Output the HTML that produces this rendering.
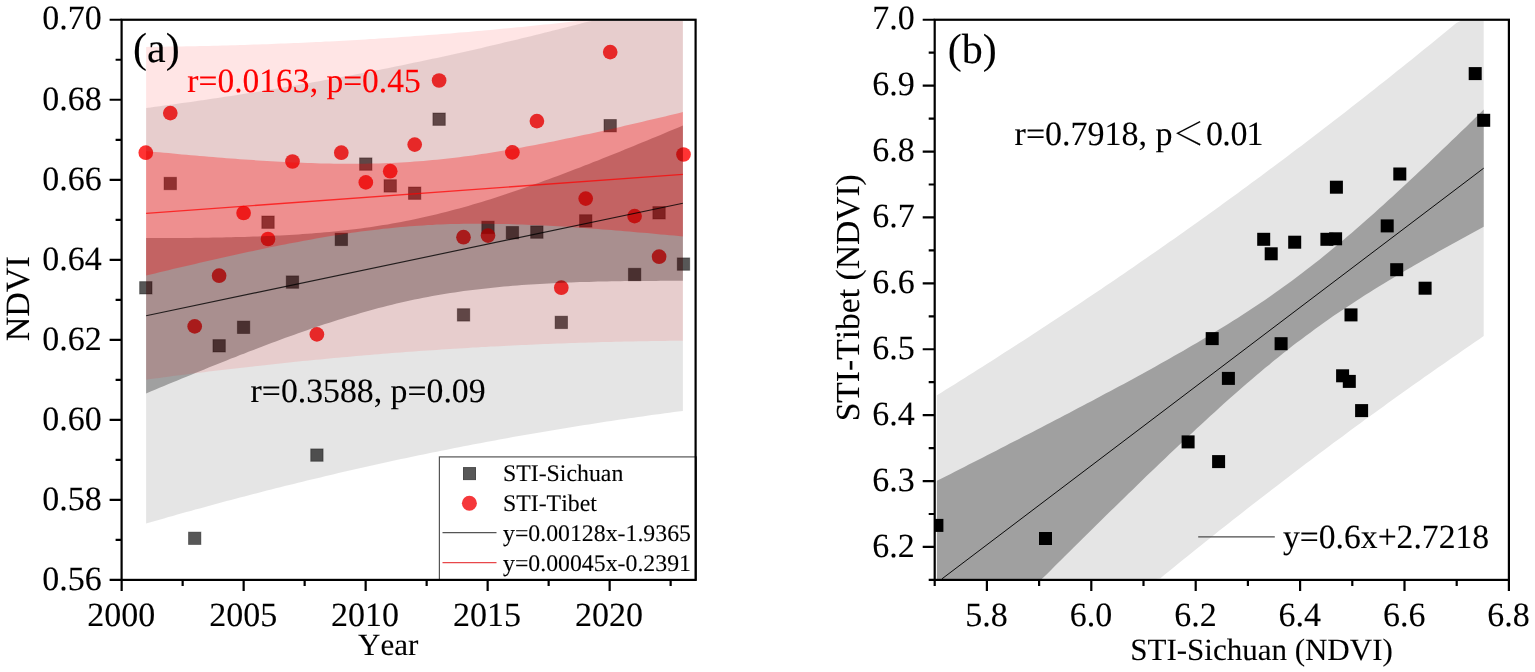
<!DOCTYPE html>
<html lang="en">
<head>
<meta charset="utf-8">
<title>NDVI trends: STI-Sichuan and STI-Tibet</title>
<style>
html,body{margin:0;padding:0;background:#fff;}
body{width:1535px;height:672px;overflow:hidden;}
svg{display:block;}
text{font-family:"Liberation Serif","Noto Serif CJK SC",serif;fill:#000;text-rendering:geometricPrecision;font-kerning:none;stroke:#000;stroke-width:0.1px;}
.t{font-size:34px;}
.l{font-size:23.8px;}
.p{font-size:42px;}
.ax{stroke:#000;stroke-width:2.2;fill:none;stroke-linecap:butt;}
</style>
</head>
<body>
<svg width="1535" height="672" viewBox="0 0 1535 672">
<rect x="0" y="0" width="1535" height="672" fill="#fff"/>

<g id="plot-a">
<g fill="#000" fill-opacity="0.66" stroke="#000" stroke-opacity="0.35" stroke-width="1">
<rect x="139.62" y="281.60" width="12.4" height="12.4"/>
<rect x="164.06" y="177.30" width="12.4" height="12.4"/>
<rect x="188.50" y="532.10" width="12.4" height="12.4"/>
<rect x="212.94" y="339.60" width="12.4" height="12.4"/>
<rect x="237.38" y="321.10" width="12.4" height="12.4"/>
<rect x="261.82" y="216.00" width="12.4" height="12.4"/>
<rect x="286.26" y="275.90" width="12.4" height="12.4"/>
<rect x="310.70" y="448.90" width="12.4" height="12.4"/>
<rect x="335.14" y="233.20" width="12.4" height="12.4"/>
<rect x="359.58" y="157.90" width="12.4" height="12.4"/>
<rect x="384.02" y="179.70" width="12.4" height="12.4"/>
<rect x="408.46" y="187.00" width="12.4" height="12.4"/>
<rect x="432.90" y="113.00" width="12.4" height="12.4"/>
<rect x="457.34" y="308.70" width="12.4" height="12.4"/>
<rect x="481.78" y="221.20" width="12.4" height="12.4"/>
<rect x="506.22" y="226.50" width="12.4" height="12.4"/>
<rect x="530.66" y="225.90" width="12.4" height="12.4"/>
<rect x="555.10" y="316.20" width="12.4" height="12.4"/>
<rect x="579.54" y="214.70" width="12.4" height="12.4"/>
<rect x="603.98" y="119.50" width="12.4" height="12.4"/>
<rect x="628.42" y="268.30" width="12.4" height="12.4"/>
<rect x="652.86" y="206.60" width="12.4" height="12.4"/>
<rect x="677.30" y="257.90" width="12.4" height="12.4"/>
</g>
<g fill="#ff0000" fill-opacity="0.8">
<circle cx="145.8" cy="152.7" r="7.35"/>
<circle cx="170.3" cy="113.1" r="7.35"/>
<circle cx="194.7" cy="326.4" r="7.35"/>
<circle cx="219.1" cy="275.7" r="7.35"/>
<circle cx="243.6" cy="213.0" r="7.35"/>
<circle cx="268.0" cy="239.0" r="7.35"/>
<circle cx="292.5" cy="161.5" r="7.35"/>
<circle cx="316.9" cy="334.4" r="7.35"/>
<circle cx="341.3" cy="152.7" r="7.35"/>
<circle cx="365.8" cy="182.4" r="7.35"/>
<circle cx="390.2" cy="171.2" r="7.35"/>
<circle cx="414.7" cy="144.6" r="7.35"/>
<circle cx="439.1" cy="80.5" r="7.35"/>
<circle cx="463.5" cy="237.2" r="7.35"/>
<circle cx="488.0" cy="235.6" r="7.35"/>
<circle cx="512.4" cy="152.4" r="7.35"/>
<circle cx="536.9" cy="121.1" r="7.35"/>
<circle cx="561.3" cy="287.7" r="7.35"/>
<circle cx="585.7" cy="198.6" r="7.35"/>
<circle cx="610.2" cy="52.1" r="7.35"/>
<circle cx="634.6" cy="216.1" r="7.35"/>
<circle cx="659.1" cy="256.7" r="7.35"/>
<circle cx="683.5" cy="154.5" r="7.35"/>
</g>
<path d="M146.1,108.0L150.6,107.4L155.0,106.8L159.5,106.2L164.0,105.6L168.5,105.0L172.9,104.4L177.4,103.8L181.9,103.1L186.4,102.5L190.8,101.9L195.3,101.2L199.8,100.6L204.3,99.9L208.7,99.3L213.2,98.6L217.7,98.0L222.1,97.3L226.6,96.6L231.1,95.9L235.6,95.2L240.0,94.5L244.5,93.8L249.0,93.1L253.5,92.4L257.9,91.7L262.4,90.9L266.9,90.2L271.4,89.5L275.8,88.7L280.3,88.0L284.8,87.2L289.2,86.5L293.7,85.7L298.2,84.9L302.7,84.1L307.1,83.4L311.6,82.6L316.1,81.8L320.6,81.0L325.0,80.1L329.5,79.3L334.0,78.5L338.5,77.7L342.9,76.8L347.4,76.0L351.9,75.2L356.3,74.3L360.8,73.4L365.3,72.6L369.8,71.7L374.2,70.8L378.7,69.9L383.2,69.0L387.7,68.2L392.1,67.2L396.6,66.3L401.1,65.4L405.6,64.5L410.0,63.6L414.5,62.6L419.0,61.7L423.4,60.7L427.9,59.8L432.4,58.8L436.9,57.9L441.3,56.9L445.8,55.9L450.3,54.9L454.8,53.9L459.2,52.9L463.7,51.9L468.2,50.9L472.7,49.9L477.1,48.9L481.6,47.9L486.1,46.8L490.5,45.8L495.0,44.7L499.5,43.7L504.0,42.6L508.4,41.6L512.9,40.5L517.4,39.4L521.9,38.3L526.3,37.2L530.8,36.2L535.3,35.0L539.8,33.9L544.2,32.8L548.7,31.7L553.2,30.6L557.6,29.5L562.1,28.3L566.6,27.2L571.1,26.0L575.5,24.9L580.0,23.7L584.5,22.5L589.0,21.4L593.4,20.8L597.9,20.8L602.4,20.8L606.9,20.8L611.3,20.8L615.8,20.8L620.3,20.8L624.7,20.8L629.2,20.8L633.7,20.8L638.2,20.8L642.6,20.8L647.1,20.8L651.6,20.8L656.1,20.8L660.5,20.8L665.0,20.8L669.5,20.8L674.0,20.8L678.4,20.8L682.9,20.8L682.9,410.9L678.4,411.5L674.0,412.1L669.5,412.7L665.0,413.3L660.5,413.9L656.1,414.5L651.6,415.1L647.1,415.8L642.6,416.4L638.2,417.0L633.7,417.7L629.2,418.3L624.7,419.0L620.3,419.6L615.8,420.3L611.3,420.9L606.9,421.6L602.4,422.3L597.9,423.0L593.4,423.7L589.0,424.4L584.5,425.1L580.0,425.8L575.5,426.5L571.1,427.2L566.6,428.0L562.1,428.7L557.6,429.4L553.2,430.2L548.7,430.9L544.2,431.7L539.8,432.4L535.3,433.2L530.8,434.0L526.3,434.8L521.9,435.6L517.4,436.3L512.9,437.1L508.4,437.9L504.0,438.8L499.5,439.6L495.0,440.4L490.5,441.2L486.1,442.1L481.6,442.9L477.1,443.8L472.7,444.6L468.2,445.5L463.7,446.3L459.2,447.2L454.8,448.1L450.3,449.0L445.8,449.9L441.3,450.8L436.9,451.7L432.4,452.6L427.9,453.5L423.4,454.4L419.0,455.3L414.5,456.3L410.0,457.2L405.6,458.2L401.1,459.1L396.6,460.1L392.1,461.1L387.7,462.0L383.2,463.0L378.7,464.0L374.2,465.0L369.8,466.0L365.3,467.0L360.8,468.0L356.3,469.0L351.9,470.0L347.4,471.1L342.9,472.1L338.5,473.1L334.0,474.2L329.5,475.2L325.0,476.3L320.6,477.4L316.1,478.4L311.6,479.5L307.1,480.6L302.7,481.7L298.2,482.8L293.7,483.9L289.2,485.0L284.8,486.1L280.3,487.2L275.8,488.3L271.4,489.5L266.9,490.6L262.4,491.8L257.9,492.9L253.5,494.1L249.0,495.2L244.5,496.4L240.0,497.6L235.6,498.8L231.1,499.9L226.6,501.1L222.1,502.3L217.7,503.5L213.2,504.7L208.7,505.9L204.3,507.2L199.8,508.4L195.3,509.6L190.8,510.9L186.4,512.1L181.9,513.3L177.4,514.6L172.9,515.9L168.5,517.1L164.0,518.4L159.5,519.7L155.0,520.9L150.6,522.2L146.1,523.5Z" fill="#000" fill-opacity="0.10"/>
<path d="M146.1,238.0L150.6,238.0L155.0,238.0L159.5,238.0L164.0,238.0L168.5,238.0L172.9,238.0L177.4,238.0L181.9,237.9L186.4,237.9L190.8,237.9L195.3,237.8L199.8,237.8L204.3,237.7L208.7,237.7L213.2,237.6L217.7,237.5L222.1,237.4L226.6,237.3L231.1,237.2L235.6,237.1L240.0,237.0L244.5,236.9L249.0,236.7L253.5,236.6L257.9,236.4L262.4,236.2L266.9,236.1L271.4,235.9L275.8,235.6L280.3,235.4L284.8,235.2L289.2,234.9L293.7,234.7L298.2,234.4L302.7,234.1L307.1,233.8L311.6,233.4L316.1,233.1L320.6,232.7L325.0,232.3L329.5,231.9L334.0,231.5L338.5,231.0L342.9,230.5L347.4,230.0L351.9,229.5L356.3,229.0L360.8,228.4L365.3,227.8L369.8,227.2L374.2,226.5L378.7,225.8L383.2,225.1L387.7,224.4L392.1,223.6L396.6,222.8L401.1,222.0L405.6,221.1L410.0,220.2L414.5,219.3L419.0,218.3L423.4,217.3L427.9,216.3L432.4,215.3L436.9,214.2L441.3,213.1L445.8,212.0L450.3,210.8L454.8,209.6L459.2,208.4L463.7,207.2L468.2,205.9L472.7,204.6L477.1,203.3L481.6,201.9L486.1,200.5L490.5,199.2L495.0,197.7L499.5,196.3L504.0,194.8L508.4,193.3L512.9,191.8L517.4,190.3L521.9,188.8L526.3,187.2L530.8,185.6L535.3,184.1L539.8,182.4L544.2,180.8L548.7,179.2L553.2,177.5L557.6,175.9L562.1,174.2L566.6,172.5L571.1,170.8L575.5,169.1L580.0,167.4L584.5,165.6L589.0,163.9L593.4,162.1L597.9,160.4L602.4,158.6L606.9,156.8L611.3,155.0L615.8,153.2L620.3,151.4L624.7,149.6L629.2,147.8L633.7,146.0L638.2,144.1L642.6,142.3L647.1,140.4L651.6,138.6L656.1,136.7L660.5,134.9L665.0,133.0L669.5,131.1L674.0,129.3L678.4,127.4L682.9,125.5L682.9,280.8L678.4,280.8L674.0,280.8L669.5,280.8L665.0,280.8L660.5,280.8L656.1,280.9L651.6,280.9L647.1,280.9L642.6,280.9L638.2,281.0L633.7,281.0L629.2,281.1L624.7,281.1L620.3,281.2L615.8,281.3L611.3,281.3L606.9,281.4L602.4,281.5L597.9,281.6L593.4,281.7L589.0,281.9L584.5,282.0L580.0,282.1L575.5,282.3L571.1,282.5L566.6,282.6L562.1,282.8L557.6,283.0L553.2,283.2L548.7,283.4L544.2,283.7L539.8,283.9L535.3,284.2L530.8,284.5L526.3,284.8L521.9,285.1L517.4,285.4L512.9,285.8L508.4,286.2L504.0,286.6L499.5,287.0L495.0,287.4L490.5,287.9L486.1,288.4L481.6,288.9L477.1,289.4L472.7,289.9L468.2,290.5L463.7,291.1L459.2,291.7L454.8,292.4L450.3,293.1L445.8,293.8L441.3,294.5L436.9,295.3L432.4,296.1L427.9,297.0L423.4,297.8L419.0,298.7L414.5,299.6L410.0,300.6L405.6,301.6L401.1,302.6L396.6,303.6L392.1,304.7L387.7,305.8L383.2,307.0L378.7,308.1L374.2,309.3L369.8,310.5L365.3,311.8L360.8,313.1L356.3,314.4L351.9,315.7L347.4,317.0L342.9,318.4L338.5,319.8L334.0,321.2L329.5,322.7L325.0,324.1L320.6,325.6L316.1,327.1L311.6,328.6L307.1,330.2L302.7,331.7L298.2,333.3L293.7,334.9L289.2,336.5L284.8,338.1L280.3,339.8L275.8,341.4L271.4,343.1L266.9,344.8L262.4,346.5L257.9,348.2L253.5,349.9L249.0,351.6L244.5,353.4L240.0,355.1L235.6,356.9L231.1,358.6L226.6,360.4L222.1,362.2L217.7,364.0L213.2,365.8L208.7,367.6L204.3,369.4L199.8,371.2L195.3,373.0L190.8,374.9L186.4,376.7L181.9,378.5L177.4,380.4L172.9,382.2L168.5,384.1L164.0,386.0L159.5,387.8L155.0,389.7L150.6,391.6L146.1,393.5Z" fill="#000" fill-opacity="0.30"/>
<path d="M146.1,46.9L150.6,46.8L155.0,46.8L159.5,46.7L164.0,46.7L168.5,46.6L172.9,46.5L177.4,46.5L181.9,46.4L186.4,46.3L190.8,46.2L195.3,46.2L199.8,46.1L204.3,46.0L208.7,45.9L213.2,45.8L217.7,45.7L222.1,45.5L226.6,45.4L231.1,45.3L235.6,45.2L240.0,45.0L244.5,44.9L249.0,44.8L253.5,44.6L257.9,44.5L262.4,44.3L266.9,44.2L271.4,44.0L275.8,43.8L280.3,43.6L284.8,43.5L289.2,43.3L293.7,43.1L298.2,42.9L302.7,42.7L307.1,42.5L311.6,42.3L316.1,42.1L320.6,41.9L325.0,41.6L329.5,41.4L334.0,41.2L338.5,40.9L342.9,40.7L347.4,40.4L351.9,40.2L356.3,39.9L360.8,39.7L365.3,39.4L369.8,39.1L374.2,38.9L378.7,38.6L383.2,38.3L387.7,38.0L392.1,37.7L396.6,37.4L401.1,37.1L405.6,36.8L410.0,36.5L414.5,36.1L419.0,35.8L423.4,35.5L427.9,35.1L432.4,34.8L436.9,34.4L441.3,34.1L445.8,33.7L450.3,33.4L454.8,33.0L459.2,32.6L463.7,32.3L468.2,31.9L472.7,31.5L477.1,31.1L481.6,30.7L486.1,30.3L490.5,29.9L495.0,29.5L499.5,29.1L504.0,28.6L508.4,28.2L512.9,27.8L517.4,27.3L521.9,26.9L526.3,26.5L530.8,26.0L535.3,25.6L539.8,25.1L544.2,24.6L548.7,24.2L553.2,23.7L557.6,23.2L562.1,22.7L566.6,22.2L571.1,21.7L575.5,21.2L580.0,20.8L584.5,20.8L589.0,20.8L593.4,20.8L597.9,20.8L602.4,20.8L606.9,20.8L611.3,20.8L615.8,20.8L620.3,20.8L624.7,20.8L629.2,20.8L633.7,20.8L638.2,20.8L642.6,20.8L647.1,20.8L651.6,20.8L656.1,20.8L660.5,20.8L665.0,20.8L669.5,20.8L674.0,20.8L678.4,20.8L682.9,20.8L682.9,340.7L678.4,340.7L674.0,340.8L669.5,340.8L665.0,340.9L660.5,341.0L656.1,341.0L651.6,341.1L647.1,341.2L642.6,341.2L638.2,341.3L633.7,341.4L629.2,341.5L624.7,341.6L620.3,341.7L615.8,341.8L611.3,341.9L606.9,342.0L602.4,342.1L597.9,342.3L593.4,342.4L589.0,342.5L584.5,342.7L580.0,342.8L575.5,342.9L571.1,343.1L566.6,343.3L562.1,343.4L557.6,343.6L553.2,343.7L548.7,343.9L544.2,344.1L539.8,344.3L535.3,344.5L530.8,344.7L526.3,344.9L521.9,345.1L517.4,345.3L512.9,345.5L508.4,345.7L504.0,345.9L499.5,346.2L495.0,346.4L490.5,346.6L486.1,346.9L481.6,347.1L477.1,347.4L472.7,347.6L468.2,347.9L463.7,348.2L459.2,348.4L454.8,348.7L450.3,349.0L445.8,349.3L441.3,349.6L436.9,349.9L432.4,350.2L427.9,350.5L423.4,350.8L419.0,351.1L414.5,351.4L410.0,351.8L405.6,352.1L401.1,352.4L396.6,352.8L392.1,353.1L387.7,353.5L383.2,353.8L378.7,354.2L374.2,354.6L369.8,354.9L365.3,355.3L360.8,355.7L356.3,356.1L351.9,356.5L347.4,356.9L342.9,357.3L338.5,357.7L334.0,358.1L329.5,358.5L325.0,358.9L320.6,359.4L316.1,359.8L311.6,360.2L307.1,360.7L302.7,361.1L298.2,361.6L293.7,362.0L289.2,362.5L284.8,363.0L280.3,363.4L275.8,363.9L271.4,364.4L266.9,364.9L262.4,365.4L257.9,365.9L253.5,366.4L249.0,366.9L244.5,367.4L240.0,367.9L235.6,368.4L231.1,368.9L226.6,369.5L222.1,370.0L217.7,370.5L213.2,371.1L208.7,371.6L204.3,372.2L199.8,372.7L195.3,373.3L190.8,373.8L186.4,374.4L181.9,375.0L177.4,375.5L172.9,376.1L168.5,376.7L164.0,377.3L159.5,377.9L155.0,378.5L150.6,379.1L146.1,379.7Z" fill="#f00" fill-opacity="0.10"/>
<path d="M146.1,151.0L150.6,151.5L155.0,151.9L159.5,152.3L164.0,152.7L168.5,153.1L172.9,153.6L177.4,154.0L181.9,154.4L186.4,154.8L190.8,155.2L195.3,155.6L199.8,156.0L204.3,156.3L208.7,156.7L213.2,157.1L217.7,157.4L222.1,157.8L226.6,158.2L231.1,158.5L235.6,158.8L240.0,159.2L244.5,159.5L249.0,159.8L253.5,160.1L257.9,160.4L262.4,160.7L266.9,161.0L271.4,161.2L275.8,161.5L280.3,161.7L284.8,162.0L289.2,162.2L293.7,162.4L298.2,162.6L302.7,162.8L307.1,163.0L311.6,163.1L316.1,163.3L320.6,163.4L325.0,163.5L329.5,163.6L334.0,163.7L338.5,163.8L342.9,163.8L347.4,163.8L351.9,163.8L356.3,163.8L360.8,163.8L365.3,163.7L369.8,163.6L374.2,163.5L378.7,163.4L383.2,163.3L387.7,163.1L392.1,162.9L396.6,162.7L401.1,162.5L405.6,162.2L410.0,161.9L414.5,161.6L419.0,161.3L423.4,160.9L427.9,160.5L432.4,160.1L436.9,159.7L441.3,159.2L445.8,158.7L450.3,158.2L454.8,157.7L459.2,157.2L463.7,156.6L468.2,156.0L472.7,155.4L477.1,154.8L481.6,154.1L486.1,153.4L490.5,152.7L495.0,152.0L499.5,151.3L504.0,150.5L508.4,149.8L512.9,149.0L517.4,148.2L521.9,147.4L526.3,146.6L530.8,145.8L535.3,144.9L539.8,144.0L544.2,143.2L548.7,142.3L553.2,141.4L557.6,140.5L562.1,139.6L566.6,138.6L571.1,137.7L575.5,136.8L580.0,135.8L584.5,134.8L589.0,133.9L593.4,132.9L597.9,131.9L602.4,130.9L606.9,129.9L611.3,128.9L615.8,127.9L620.3,126.9L624.7,125.8L629.2,124.8L633.7,123.8L638.2,122.7L642.6,121.7L647.1,120.6L651.6,119.6L656.1,118.5L660.5,117.5L665.0,116.4L669.5,115.3L674.0,114.2L678.4,113.2L682.9,112.1L682.9,236.5L678.4,236.1L674.0,235.6L669.5,235.2L665.0,234.8L660.5,234.4L656.1,234.0L651.6,233.6L647.1,233.1L642.6,232.7L638.2,232.4L633.7,232.0L629.2,231.6L624.7,231.2L620.3,230.8L615.8,230.4L611.3,230.1L606.9,229.7L602.4,229.4L597.9,229.0L593.4,228.7L589.0,228.4L584.5,228.0L580.0,227.7L575.5,227.4L571.1,227.1L566.6,226.8L562.1,226.6L557.6,226.3L553.2,226.0L548.7,225.8L544.2,225.6L539.8,225.3L535.3,225.1L530.8,224.9L526.3,224.7L521.9,224.6L517.4,224.4L512.9,224.3L508.4,224.1L504.0,224.0L499.5,223.9L495.0,223.9L490.5,223.8L486.1,223.8L481.6,223.7L477.1,223.7L472.7,223.7L468.2,223.8L463.7,223.8L459.2,223.9L454.8,224.0L450.3,224.1L445.8,224.3L441.3,224.5L436.9,224.6L432.4,224.9L427.9,225.1L423.4,225.4L419.0,225.7L414.5,226.0L410.0,226.3L405.6,226.7L401.1,227.1L396.6,227.5L392.1,227.9L387.7,228.4L383.2,228.8L378.7,229.4L374.2,229.9L369.8,230.4L365.3,231.0L360.8,231.6L356.3,232.2L351.9,232.8L347.4,233.5L342.9,234.2L338.5,234.9L334.0,235.6L329.5,236.3L325.0,237.1L320.6,237.8L316.1,238.6L311.6,239.4L307.1,240.2L302.7,241.0L298.2,241.9L293.7,242.7L289.2,243.6L284.8,244.4L280.3,245.3L275.8,246.2L271.4,247.1L266.9,248.1L262.4,249.0L257.9,249.9L253.5,250.9L249.0,251.8L244.5,252.8L240.0,253.8L235.6,254.7L231.1,255.7L226.6,256.7L222.1,257.7L217.7,258.7L213.2,259.7L208.7,260.8L204.3,261.8L199.8,262.8L195.3,263.9L190.8,264.9L186.4,265.9L181.9,267.0L177.4,268.1L172.9,269.1L168.5,270.2L164.0,271.2L159.5,272.3L155.0,273.4L150.6,274.5L146.1,275.6Z" fill="#f00" fill-opacity="0.30"/>
<line x1="146.1" y1="315.7" x2="682.9" y2="203.2" stroke="#000" stroke-opacity="0.8" stroke-width="1.15"/>
<line x1="146.1" y1="213.3" x2="682.9" y2="174.3" stroke="#ff0000" stroke-opacity="0.72" stroke-width="1.35"/>
<rect x="439.4" y="456.9" width="257" height="123" fill="#fff" stroke="#555" stroke-width="1.2"/>
<rect x="463.5" y="467.6" width="12" height="12" fill="#585858" stroke="#4a4a4a" stroke-width="1"/>
<circle cx="469.4" cy="503.3" r="7.5" fill="#f5383b"/>
<line x1="442.5" y1="532.7" x2="496.5" y2="532.7" stroke="#555" stroke-width="1.2"/>
<line x1="442.5" y1="562.7" x2="496.5" y2="562.7" stroke="#e8474a" stroke-width="1.2"/>
<text class="l" transform="translate(503.0 481.0)">STI-Sichuan</text>
<text class="l" transform="translate(503.0 511.0)">STI-Tibet</text>
<text class="l" transform="translate(503.0 540.6)">y=0.00128x-1.9365</text>
<text class="l" transform="translate(503.0 570.8)">y=0.00045x-0.2391</text>
<rect class="ax" x="121.6" y="19.75" width="574.0" height="560.15"/>
<text class="t" transform="translate(101.8 589.6)" text-anchor="end">0.56</text>
<text class="t" transform="translate(101.8 509.6)" text-anchor="end">0.58</text>
<text class="t" transform="translate(101.8 429.6)" text-anchor="end">0.60</text>
<text class="t" transform="translate(101.8 349.5)" text-anchor="end">0.62</text>
<text class="t" transform="translate(101.8 269.5)" text-anchor="end">0.64</text>
<text class="t" transform="translate(101.8 189.5)" text-anchor="end">0.66</text>
<text class="t" transform="translate(101.8 109.5)" text-anchor="end">0.68</text>
<text class="t" transform="translate(101.8 29.4)" text-anchor="end">0.70</text>
<text class="t" transform="translate(121.2 625.6)" text-anchor="middle">2000</text>
<text class="t" transform="translate(243.2 625.6)" text-anchor="middle">2005</text>
<text class="t" transform="translate(365.1 625.6)" text-anchor="middle">2010</text>
<text class="t" transform="translate(487.1 625.6)" text-anchor="middle">2015</text>
<text class="t" transform="translate(609.1 625.6)" text-anchor="middle">2020</text>
<path class="ax" d="M109.6,579.90H121.6 M109.6,499.88H121.6 M109.6,419.86H121.6 M109.6,339.84H121.6 M109.6,259.81H121.6 M109.6,179.79H121.6 M109.6,99.77H121.6 M109.6,19.75H121.6 M115.6,539.89H121.6 M115.6,459.87H121.6 M115.6,379.85H121.6 M115.6,299.83H121.6 M115.6,219.80H121.6 M115.6,139.78H121.6 M115.6,59.76H121.6 M121.65,579.9V590.9 M243.65,579.9V590.9 M365.65,579.9V590.9 M487.65,579.9V590.9 M609.65,579.9V590.9 M182.65,579.9V585.9 M304.65,579.9V585.9 M426.65,579.9V585.9 M548.65,579.9V585.9 M670.65,579.9V585.9"/>
<text class="t" transform="translate(388.2 655.1)" text-anchor="middle" style="font-size:31px">Year</text>
<text class="t" transform="translate(29.0 298.7) rotate(-90)" text-anchor="middle">NDVI</text>
<text class="p" transform="translate(133.0 62.0)">(a)</text>
<text class="t" transform="translate(187.3 91.5)" style="fill:#f00;stroke:#f00" textLength="233.5" lengthAdjust="spacingAndGlyphs">r=0.0163, p=0.45</text>
<text class="t" transform="translate(250.6 402.2)" textLength="235" lengthAdjust="spacingAndGlyphs">r=0.3588, p=0.09</text>
</g>
<g id="plot-b">
<path d="M936.9,395.3L941.5,392.4L946.0,389.6L950.6,386.7L955.2,383.9L959.7,381.0L964.3,378.2L968.8,375.3L973.4,372.4L977.9,369.5L982.5,366.7L987.1,363.8L991.6,360.9L996.2,357.9L1000.7,355.0L1005.3,352.1L1009.8,349.2L1014.4,346.2L1019.0,343.3L1023.5,340.4L1028.1,337.4L1032.6,334.4L1037.2,331.5L1041.7,328.5L1046.3,325.5L1050.8,322.5L1055.4,319.5L1060.0,316.5L1064.5,313.5L1069.1,310.5L1073.6,307.5L1078.2,304.4L1082.7,301.4L1087.3,298.3L1091.9,295.3L1096.4,292.2L1101.0,289.2L1105.5,286.1L1110.1,283.0L1114.6,279.9L1119.2,276.8L1123.8,273.7L1128.3,270.6L1132.9,267.4L1137.4,264.3L1142.0,261.1L1146.5,258.0L1151.1,254.8L1155.6,251.7L1160.2,248.5L1164.8,245.3L1169.3,242.1L1173.9,238.9L1178.4,235.7L1183.0,232.5L1187.5,229.3L1192.1,226.0L1196.7,222.8L1201.2,219.5L1205.8,216.3L1210.3,213.0L1214.9,209.7L1219.4,206.4L1224.0,203.1L1228.5,199.8L1233.1,196.5L1237.7,193.2L1242.2,189.8L1246.8,186.5L1251.3,183.1L1255.9,179.8L1260.4,176.4L1265.0,173.0L1269.6,169.6L1274.1,166.2L1278.7,162.8L1283.2,159.4L1287.8,156.0L1292.3,152.6L1296.9,149.1L1301.5,145.7L1306.0,142.2L1310.6,138.8L1315.1,135.3L1319.7,131.8L1324.2,128.3L1328.8,124.8L1333.3,121.3L1337.9,117.7L1342.5,114.2L1347.0,110.7L1351.6,107.1L1356.1,103.6L1360.7,100.0L1365.2,96.4L1369.8,92.8L1374.4,89.2L1378.9,85.6L1383.5,82.0L1388.0,78.4L1392.6,74.8L1397.1,71.1L1401.7,67.5L1406.3,63.8L1410.8,60.2L1415.4,56.5L1419.9,52.8L1424.5,49.1L1429.0,45.4L1433.6,41.7L1438.1,38.0L1442.7,34.3L1447.3,30.5L1451.8,26.8L1456.4,23.0L1460.9,20.8L1465.5,20.8L1470.0,20.8L1474.6,20.8L1479.2,20.8L1483.7,20.8L1483.7,336.1L1479.2,339.2L1474.6,342.3L1470.0,345.4L1465.5,348.6L1460.9,351.7L1456.4,354.9L1451.8,358.0L1447.3,361.2L1442.7,364.4L1438.1,367.5L1433.6,370.7L1429.0,373.9L1424.5,377.1L1419.9,380.4L1415.4,383.6L1410.8,386.8L1406.3,390.1L1401.7,393.3L1397.1,396.6L1392.6,399.8L1388.0,403.1L1383.5,406.4L1378.9,409.7L1374.4,413.0L1369.8,416.3L1365.2,419.6L1360.7,422.9L1356.1,426.3L1351.6,429.6L1347.0,433.0L1342.5,436.4L1337.9,439.7L1333.3,443.1L1328.8,446.5L1324.2,449.9L1319.7,453.3L1315.1,456.7L1310.6,460.2L1306.0,463.6L1301.5,467.1L1296.9,470.5L1292.3,474.0L1287.8,477.4L1283.2,480.9L1278.7,484.4L1274.1,487.9L1269.6,491.4L1265.0,495.0L1260.4,498.5L1255.9,502.0L1251.3,505.6L1246.8,509.1L1242.2,512.7L1237.7,516.3L1233.1,519.8L1228.5,523.4L1224.0,527.0L1219.4,530.6L1214.9,534.3L1210.3,537.9L1205.8,541.5L1201.2,545.2L1196.7,548.8L1192.1,552.5L1187.5,556.2L1183.0,559.8L1178.4,563.5L1173.9,567.2L1169.3,570.9L1164.8,574.6L1160.2,578.4L1155.6,578.9L1151.1,578.9L1146.5,578.9L1142.0,578.9L1137.4,578.9L1132.9,578.9L1128.3,578.9L1123.8,578.9L1119.2,578.9L1114.6,578.9L1110.1,578.9L1105.5,578.9L1101.0,578.9L1096.4,578.9L1091.9,578.9L1087.3,578.9L1082.7,578.9L1078.2,578.9L1073.6,578.9L1069.1,578.9L1064.5,578.9L1060.0,578.9L1055.4,578.9L1050.8,578.9L1046.3,578.9L1041.7,578.9L1037.2,578.9L1032.6,578.9L1028.1,578.9L1023.5,578.9L1019.0,578.9L1014.4,578.9L1009.8,578.9L1005.3,578.9L1000.7,578.9L996.2,578.9L991.6,578.9L987.1,578.9L982.5,578.9L977.9,578.9L973.4,578.9L968.8,578.9L964.3,578.9L959.7,578.9L955.2,578.9L950.6,578.9L946.0,578.9L941.5,578.9L936.9,578.9Z" fill="#e5e5e5"/>
<path d="M936.9,480.8L941.5,478.5L946.0,476.2L950.6,473.9L955.2,471.6L959.7,469.3L964.3,466.9L968.8,464.6L973.4,462.3L977.9,460.0L982.5,457.7L987.1,455.3L991.6,453.0L996.2,450.7L1000.7,448.3L1005.3,446.0L1009.8,443.6L1014.4,441.3L1019.0,439.0L1023.5,436.6L1028.1,434.3L1032.6,431.9L1037.2,429.5L1041.7,427.2L1046.3,424.8L1050.8,422.4L1055.4,420.1L1060.0,417.7L1064.5,415.3L1069.1,412.9L1073.6,410.5L1078.2,408.1L1082.7,405.7L1087.3,403.3L1091.9,400.9L1096.4,398.5L1101.0,396.1L1105.5,393.6L1110.1,391.2L1114.6,388.8L1119.2,386.3L1123.8,383.9L1128.3,381.4L1132.9,378.9L1137.4,376.4L1142.0,373.9L1146.5,371.4L1151.1,368.9L1155.6,366.4L1160.2,363.8L1164.8,361.3L1169.3,358.7L1173.9,356.1L1178.4,353.5L1183.0,350.9L1187.5,348.3L1192.1,345.6L1196.7,343.0L1201.2,340.3L1205.8,337.6L1210.3,334.8L1214.9,332.1L1219.4,329.3L1224.0,326.5L1228.5,323.7L1233.1,320.8L1237.7,317.9L1242.2,315.0L1246.8,312.0L1251.3,309.1L1255.9,306.0L1260.4,303.0L1265.0,299.9L1269.6,296.7L1274.1,293.5L1278.7,290.3L1283.2,287.1L1287.8,283.8L1292.3,280.4L1296.9,277.0L1301.5,273.6L1306.0,270.1L1310.6,266.6L1315.1,263.0L1319.7,259.4L1324.2,255.7L1328.8,252.0L1333.3,248.3L1337.9,244.5L1342.5,240.7L1347.0,236.8L1351.6,232.9L1356.1,229.0L1360.7,225.0L1365.2,221.0L1369.8,217.0L1374.4,212.9L1378.9,208.8L1383.5,204.7L1388.0,200.6L1392.6,196.4L1397.1,192.2L1401.7,188.0L1406.3,183.8L1410.8,179.5L1415.4,175.3L1419.9,171.0L1424.5,166.7L1429.0,162.4L1433.6,158.0L1438.1,153.7L1442.7,149.3L1447.3,145.0L1451.8,140.6L1456.4,136.2L1460.9,131.8L1465.5,127.4L1470.0,122.9L1474.6,118.5L1479.2,114.1L1483.7,109.6L1483.7,226.8L1479.2,229.3L1474.6,231.8L1470.0,234.2L1465.5,236.7L1460.9,239.2L1456.4,241.7L1451.8,244.2L1447.3,246.7L1442.7,249.3L1438.1,251.8L1433.6,254.4L1429.0,257.0L1424.5,259.6L1419.9,262.2L1415.4,264.8L1410.8,267.4L1406.3,270.1L1401.7,272.8L1397.1,275.5L1392.6,278.2L1388.0,280.9L1383.5,283.7L1378.9,286.5L1374.4,289.3L1369.8,292.2L1365.2,295.0L1360.7,297.9L1356.1,300.9L1351.6,303.9L1347.0,306.9L1342.5,309.9L1337.9,313.0L1333.3,316.1L1328.8,319.3L1324.2,322.5L1319.7,325.7L1315.1,329.0L1310.6,332.4L1306.0,335.7L1301.5,339.2L1296.9,342.6L1292.3,346.1L1287.8,349.7L1283.2,353.3L1278.7,356.9L1274.1,360.6L1269.6,364.4L1265.0,368.1L1260.4,371.9L1255.9,375.8L1251.3,379.7L1246.8,383.6L1242.2,387.5L1237.7,391.5L1233.1,395.5L1228.5,399.6L1224.0,403.6L1219.4,407.7L1214.9,411.9L1210.3,416.0L1205.8,420.2L1201.2,424.4L1196.7,428.6L1192.1,432.9L1187.5,437.1L1183.0,441.4L1178.4,445.7L1173.9,450.0L1169.3,454.3L1164.8,458.7L1160.2,463.0L1155.6,467.4L1151.1,471.8L1146.5,476.1L1142.0,480.5L1137.4,485.0L1132.9,489.4L1128.3,493.8L1123.8,498.2L1119.2,502.7L1114.6,507.2L1110.1,511.6L1105.5,516.1L1101.0,520.6L1096.4,525.0L1091.9,529.5L1087.3,534.0L1082.7,538.5L1078.2,543.0L1073.6,547.5L1069.1,552.1L1064.5,556.6L1060.0,561.1L1055.4,565.6L1050.8,570.2L1046.3,574.7L1041.7,578.9L1037.2,578.9L1032.6,578.9L1028.1,578.9L1023.5,578.9L1019.0,578.9L1014.4,578.9L1009.8,578.9L1005.3,578.9L1000.7,578.9L996.2,578.9L991.6,578.9L987.1,578.9L982.5,578.9L977.9,578.9L973.4,578.9L968.8,578.9L964.3,578.9L959.7,578.9L955.2,578.9L950.6,578.9L946.0,578.9L941.5,578.9L936.9,578.9Z" fill="#a0a0a0"/>
<line x1="941.9" y1="578.9" x2="1483.7" y2="168.2" stroke="#0a0a0a" stroke-width="1"/>
<clipPath id="clipb"><rect x="934.7" y="19.75" width="574.2" height="560.1"/></clipPath>
<g fill="#000" clip-path="url(#clipb)">
<rect x="1257.2" y="232.8" width="13" height="13"/>
<rect x="1393.3" y="167.5" width="13" height="13"/>
<rect x="930.4" y="518.9" width="13" height="13"/>
<rect x="1181.6" y="435.4" width="13" height="13"/>
<rect x="1205.7" y="332.1" width="13" height="13"/>
<rect x="1342.8" y="374.9" width="13" height="13"/>
<rect x="1264.7" y="247.3" width="13" height="13"/>
<rect x="1039.0" y="532.0" width="13" height="13"/>
<rect x="1320.4" y="232.8" width="13" height="13"/>
<rect x="1418.6" y="281.7" width="13" height="13"/>
<rect x="1390.2" y="263.2" width="13" height="13"/>
<rect x="1380.7" y="219.4" width="13" height="13"/>
<rect x="1477.2" y="113.8" width="13" height="13"/>
<rect x="1221.9" y="371.9" width="13" height="13"/>
<rect x="1336.1" y="369.3" width="13" height="13"/>
<rect x="1329.1" y="232.3" width="13" height="13"/>
<rect x="1329.9" y="180.7" width="13" height="13"/>
<rect x="1212.1" y="455.1" width="13" height="13"/>
<rect x="1344.5" y="308.4" width="13" height="13"/>
<rect x="1468.7" y="67.1" width="13" height="13"/>
<rect x="1274.6" y="337.2" width="13" height="13"/>
<rect x="1355.1" y="404.1" width="13" height="13"/>
<rect x="1288.2" y="235.7" width="13" height="13"/>
</g>
<rect class="ax" x="934.7" y="19.75" width="574.2" height="560.15"/>
<text class="t" transform="translate(914.8 556.5)" text-anchor="end">6.2</text>
<text class="t" transform="translate(914.8 490.6)" text-anchor="end">6.3</text>
<text class="t" transform="translate(914.8 424.6)" text-anchor="end">6.4</text>
<text class="t" transform="translate(914.8 358.8)" text-anchor="end">6.5</text>
<text class="t" transform="translate(914.8 292.8)" text-anchor="end">6.6</text>
<text class="t" transform="translate(914.8 227.0)" text-anchor="end">6.7</text>
<text class="t" transform="translate(914.8 161.0)" text-anchor="end">6.8</text>
<text class="t" transform="translate(914.8 95.2)" text-anchor="end">6.9</text>
<text class="t" transform="translate(914.8 29.3)" text-anchor="end">7.0</text>
<text class="t" transform="translate(986.6 625.7)" text-anchor="middle">5.8</text>
<text class="t" transform="translate(1091.0 625.7)" text-anchor="middle">6.0</text>
<text class="t" transform="translate(1195.4 625.7)" text-anchor="middle">6.2</text>
<text class="t" transform="translate(1299.8 625.7)" text-anchor="middle">6.4</text>
<text class="t" transform="translate(1404.2 625.7)" text-anchor="middle">6.6</text>
<text class="t" transform="translate(1508.6 625.7)" text-anchor="middle">6.8</text>
<path class="ax" d="M922.7,546.95H934.7 M922.7,481.05H934.7 M922.7,415.15H934.7 M922.7,349.25H934.7 M922.7,283.35H934.7 M922.7,217.45H934.7 M922.7,151.55H934.7 M922.7,85.65H934.7 M922.7,19.75H934.7 M928.7,579.90H934.7 M928.7,514.00H934.7 M928.7,448.10H934.7 M928.7,382.20H934.7 M928.7,316.30H934.7 M928.7,250.40H934.7 M928.7,184.50H934.7 M928.7,118.60H934.7 M928.7,52.70H934.7 M986.90,579.9V590.9 M1091.30,579.9V590.9 M1195.70,579.9V590.9 M1300.10,579.9V590.9 M1404.50,579.9V590.9 M1508.90,579.9V590.9 M934.70,579.9V585.9 M1039.10,579.9V585.9 M1143.50,579.9V585.9 M1247.90,579.9V585.9 M1352.30,579.9V585.9 M1456.70,579.9V585.9"/>
<text class="t" transform="translate(1261.5 659.6)" text-anchor="middle" style="font-size:31px">STI-Sichuan (NDVI)</text>
<text class="t" transform="translate(859.0 297.8) rotate(-90)" text-anchor="middle" style="font-size:33.6px">STI-Tibet (NDVI)</text>
<text class="p" transform="translate(947.8 63.2)">(b)</text>
<text class="t" transform="translate(1014.6 145.0)">r=0.7918, p<tspan style="font-size:32px" x="157.6" dy="-0.4">＜</tspan><tspan x="191.5 207.7 215.8 232" dy="0.4">0.01</tspan></text>
<line x1="1198.2" y1="536.9" x2="1274.8" y2="536.9" stroke="#4a4a4a" stroke-width="1.3"/>
<text class="t" transform="translate(1283.0 547.8)" textLength="206.1" lengthAdjust="spacingAndGlyphs">y=0.6x+2.7218</text>
</g>
</svg>
</body>
</html>
